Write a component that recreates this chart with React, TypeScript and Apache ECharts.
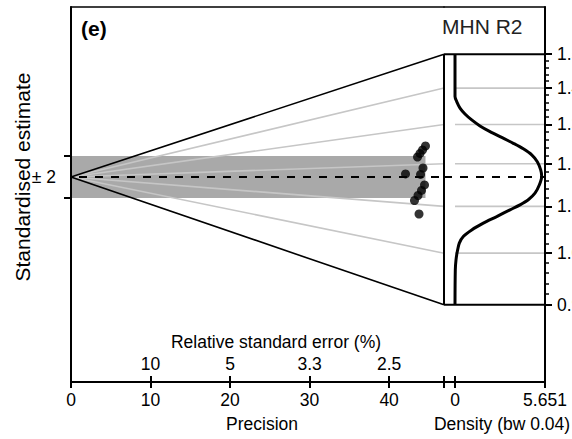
import React, { useEffect, useRef } from "react";
import * as echarts from "echarts";

// ---- data ----
const pointPrecision = [42.06, 43.57, 43.88, 44.2, 44.57, 44.26, 43.95, 44.45, 44.07, 43.63, 43.19, 43.76];
const pointZ = [0.29, 1.91, 2.25, 2.58, 2.96, 0.86, 0.24, -0.76, -1.29, -1.77, -2.25, -3.54];

const precisionTicks = [0, 10, 20, 30, 40];
const rseTickPrecision = [10, 20, 30, 40];
const rseTickLabels = ["10", "5", "3.3", "2.5"];

const estimateTicks = [0.9, 1.0, 1.1, 1.2, 1.3, 1.4, 1.5];
const estimateMinorTicks = [
  0.92, 0.94, 0.96, 0.98, 1.02, 1.04, 1.06, 1.08, 1.12, 1.14, 1.16, 1.18,
  1.22, 1.24, 1.26, 1.28, 1.32, 1.34, 1.36, 1.38, 1.42, 1.44, 1.46, 1.48,
];

const densityEstimate = [
  0.9, 0.9666, 0.9865, 1.0033, 1.0206, 1.0345, 1.0486, 1.0631, 1.0775, 1.0923, 1.1035, 1.115,
  1.13, 1.149, 1.169, 1.185, 1.205, 1.222, 1.237, 1.251, 1.266, 1.281, 1.296, 1.312, 1.328,
  1.344, 1.362, 1.376, 1.5,
];
const densityValue = [
  0, 0.019, 0.063, 0.144, 0.27, 0.521, 1.049, 1.777, 2.618, 3.453, 4.081, 4.602,
  5.023, 5.293, 5.444, 5.381, 5.168, 4.816, 4.289, 3.661, 2.932, 2.198, 1.57, 1.049, 0.628,
  0.314, 0.107, 0, 0,
];

const CENTRAL_VALUE = 1.168;
const PREC_ARC = 46.9;
const Z_MIN = -19.6;
const Z_MAX = 16.25;
const DENS_MAX = 5.651;
const DENS_MIN = -0.691;
const DENS_LABELS = ["0", "5.651"];

const FONT = "'Liberation Sans', Arial, sans-serif";
const BAND = "#a9a9a9";
const GREY = "#c6c6c6";

export default function App() {
  const ref = useRef<HTMLDivElement>(null);
  useEffect(() => {
    if (!ref.current) return;
    const chart = echarts.init(ref.current, null, { renderer: "svg" });
    const lnC = Math.log(CENTRAL_VALUE);
    const lnMin = lnC + Z_MIN / PREC_ARC;
    const lnMax = lnC + Z_MAX / PREC_ARC;
    const bandEnd = Math.max(...pointPrecision);
    const lnTicks = estimateTicks.map((v) => Math.log(v));
    const lnMinor = estimateMinorTicks.map((v) => Math.log(v));
    const zAt = (v: number) => PREC_ARC * (Math.log(v) - lnC);

    const labelNarrow = { fontFamily: FONT, fontSize: 17.5, color: "#000" };
    const blackLine = { color: "#000", width: 2 };

    const series: any[] = [];
    series.push({
      type: "custom",
      xAxisIndex: 0,
      yAxisIndex: 0,
      z: 1,
      silent: true,
      data: [[0, -2, bandEnd, 2]],
      encode: { x: [0, 2], y: [1, 3] },
      renderItem: (_p: any, api: any) => {
        const a = api.coord([api.value(0), api.value(3)]);
        const b = api.coord([api.value(2), api.value(1)]);
        return {
          type: "rect",
          shape: { x: a[0], y: a[1], width: b[0] - a[0], height: b[1] - a[1] },
          style: { fill: BAND },
        };
      },
    });
    estimateTicks.forEach((v, i) => {
      const edge = i === 0 || i === estimateTicks.length - 1;
      const col = edge ? "#000" : GREY;
      series.push({
        type: "line",
        xAxisIndex: 0,
        yAxisIndex: 0,
        z: edge ? 4 : 2,
        symbol: "none",
        silent: true,
        lineStyle: { color: col, width: 1.6 },
        data: [
          [0, 0],
          [PREC_ARC, zAt(v)],
        ],
      });
      series.push({
        type: "line",
        xAxisIndex: 2,
        yAxisIndex: 1,
        z: edge ? 4 : 2,
        symbol: "none",
        silent: true,
        lineStyle: { color: col, width: edge ? 2 : 1.6 },
        data: [
          [edge ? DENS_MIN : 0, Math.log(v)],
          [DENS_MAX, Math.log(v)],
        ],
      });
    });
    // arc (straight) line
    series.push({
      type: "line",
      xAxisIndex: 0,
      yAxisIndex: 0,
      z: 4,
      symbol: "none",
      silent: true,
      lineStyle: { color: "#000", width: 2 },
      data: [
        [PREC_ARC, zAt(estimateTicks[0])],
        [PREC_ARC, zAt(estimateTicks[estimateTicks.length - 1])],
      ],
    });
    // central dashed line
    series.push({
      type: "line",
      xAxisIndex: 0,
      yAxisIndex: 0,
      z: 3,
      symbol: "none",
      silent: true,
      lineStyle: { color: "#000", width: 2, type: [8, 8], dashOffset: -8 },
      data: [
        [0, 0],
        [PREC_ARC, 0],
      ],
    });
    series.push({
      type: "line",
      xAxisIndex: 2,
      yAxisIndex: 1,
      z: 3,
      symbol: "none",
      silent: true,
      lineStyle: { color: "#000", width: 2, type: [8, 8] },
      data: [
        [DENS_MIN, lnC],
        [DENS_MAX, lnC],
      ],
    });
    // density curve
    series.push({
      type: "line",
      xAxisIndex: 2,
      yAxisIndex: 1,
      z: 5,
      symbol: "none",
      silent: true,
      smooth: 0.3,
      lineStyle: { color: "#000", width: 3 },
      data: densityEstimate.map((v, i) => [densityValue[i], Math.log(v)]),
    });
    // points
    series.push({
      type: "scatter",
      xAxisIndex: 0,
      yAxisIndex: 0,
      z: 6,
      symbol: "circle",
      symbolSize: 9,
      silent: true,
      itemStyle: { color: "#000" },
      data: pointPrecision.map((p, i) => [p, pointZ[i]]),
    });

    chart.setOption({
      animation: false,
      backgroundColor: "#fff",
      grid: [
        { left: 71, top: 7, width: 373, height: 375, containLabel: false, outerBoundsMode: "none" },
        { left: 444, top: 7, width: 101, height: 375, containLabel: false, outerBoundsMode: "none" },
      ],
      xAxis: [
        {
          type: "value",
          gridIndex: 0,
          position: "bottom",
          min: 0,
          max: PREC_ARC,
          z: 10,
          axisLine: { show: true, onZero: false, lineStyle: blackLine },
          axisTick: { show: true, length: 6, lineStyle: blackLine, customValues: [...precisionTicks, PREC_ARC] },
          axisLabel: { ...labelNarrow, margin: 9, customValues: precisionTicks },
          splitLine: { show: false },
          name: "Precision",
          nameLocation: "middle",
          nameGap: 33,
          nameMoveOverlap: false,
          nameTextStyle: { ...labelNarrow, padding: [0, 0, 0, 9] },
        },
        {
          type: "value",
          gridIndex: 0,
          position: "bottom",
          min: 0,
          max: PREC_ARC,
          z: 10,
          axisLine: { show: false, onZero: false },
          axisTick: { show: true, inside: true, length: 6, lineStyle: blackLine, customValues: [...rseTickPrecision, PREC_ARC] },
          axisLabel: {
            ...labelNarrow,
            inside: true,
            margin: 9,
            customValues: rseTickPrecision,
            formatter: (v: number) => rseTickLabels[rseTickPrecision.indexOf(v)] ?? "",
          },
          splitLine: { show: false },
        },
        {
          type: "value",
          gridIndex: 1,
          position: "bottom",
          min: DENS_MIN,
          max: DENS_MAX,
          z: 10,
          axisLine: { show: true, onZero: false, lineStyle: blackLine },
          axisTick: { show: true, length: 6, lineStyle: blackLine, customValues: [0, DENS_MAX] },
          axisLabel: {
            ...labelNarrow,
            margin: 9,
            customValues: [0, DENS_MAX],
            formatter: (v: number) => (v === 0 ? DENS_LABELS[0] : DENS_LABELS[1]),
          },
          splitLine: { show: false },
          name: "Density (bw 0.04)",
          nameLocation: "middle",
          nameGap: 33,
          nameMoveOverlap: false,
          nameTextStyle: { ...labelNarrow, padding: [0, 0, 0, 15] },
        },
        {
          type: "value",
          gridIndex: 1,
          position: "bottom",
          min: DENS_MIN,
          max: DENS_MAX,
          z: 10,
          axisLine: { show: false, onZero: false },
          axisTick: { show: true, inside: true, length: 6, lineStyle: blackLine, customValues: [0] },
          axisLabel: { show: false },
          splitLine: { show: false },
        },
        {
          type: "value",
          gridIndex: 0,
          position: "top",
          min: 0,
          max: PREC_ARC,
          z: 10,
          axisLine: { show: true, onZero: false, lineStyle: { color: "#000", width: 1.6 } },
          axisTick: { show: false },
          axisLabel: { show: false },
          splitLine: { show: false },
        },
        {
          type: "value",
          gridIndex: 1,
          position: "top",
          min: DENS_MIN,
          max: DENS_MAX,
          z: 10,
          axisLine: { show: true, onZero: false, lineStyle: { color: "#000", width: 1.6 } },
          axisTick: { show: false },
          axisLabel: { show: false },
          splitLine: { show: false },
        },
      ],
      yAxis: [
        {
          type: "value",
          gridIndex: 0,
          position: "left",
          min: Z_MIN,
          max: Z_MAX,
          z: 10,
          axisLine: { show: true, onZero: false, lineStyle: blackLine },
          axisTick: { show: true, length: 7, lineStyle: blackLine, customValues: [-2, 2] },
          axisLabel: { ...labelNarrow, margin: 15, customValues: [0], formatter: () => "± 2" },
          splitLine: { show: false },
          name: "Standardised estimate",
          nameLocation: "middle",
          nameGap: 38,
          nameMoveOverlap: false,
          nameTextStyle: { fontFamily: FONT, fontSize: 21, color: "#000", padding: [0, 0, 0, 35] },
        },
        {
          type: "value",
          gridIndex: 1,
          position: "right",
          min: lnMin,
          max: lnMax,
          z: 10,
          axisLine: { show: true, onZero: false, lineStyle: blackLine },
          axisTick: { show: true, length: 7, lineStyle: blackLine, customValues: lnTicks },
          axisLabel: {
            ...labelNarrow,
            margin: 12,
            customValues: lnTicks,
            formatter: (v: number) => Math.exp(v).toFixed(1),
          },
          splitLine: { show: false },
        },
        {
          type: "value",
          gridIndex: 1,
          position: "right",
          min: lnMin,
          max: lnMax,
          z: 10,
          axisLine: { show: false, onZero: false },
          axisTick: { show: true, length: 4, lineStyle: { color: "#000", width: 1.5 }, customValues: lnMinor },
          axisLabel: { show: false },
          splitLine: { show: false },
        },
      ],
      graphic: [
        {
          type: "text",
          left: 81,
          top: 18,
          style: { text: "(e)", fontFamily: FONT, fontWeight: "bold", fontSize: 21, fill: "#000" },
        },
        {
          type: "text",
          left: 442,
          top: 16,
          style: { text: "MHN R2", fontFamily: FONT, fontSize: 21, fill: "#222" },
        },
        {
          type: "text",
          x: 276,
          y: 342,
          style: {
            text: "Relative standard error (%)",
            fontFamily: FONT,
            fontSize: 17.5,
            fill: "#000",
            align: "center",
            verticalAlign: "middle",
          },
        },
      ],
      series,
    });
    return () => chart.dispose();
  }, []);
  return <div ref={ref} style={{ position: "fixed", left: 0, top: 0, width: 572, height: 439 }} />;
}
